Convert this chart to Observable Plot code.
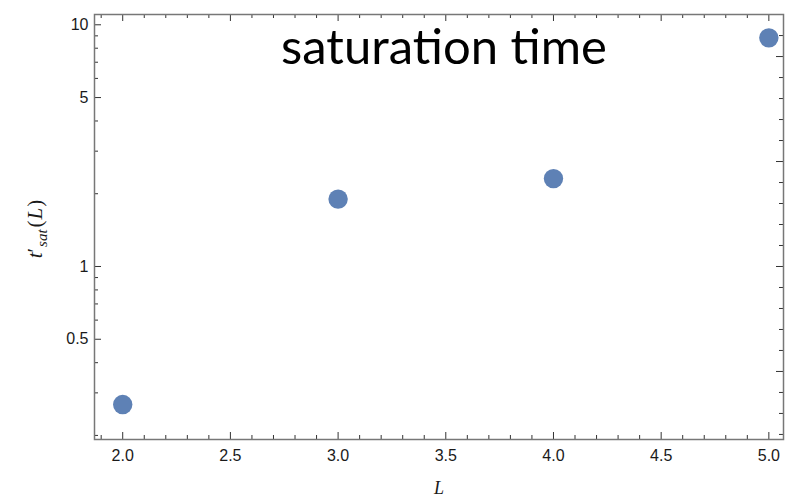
<!DOCTYPE html>
<html><head><meta charset="utf-8">
<script src="https://cdn.jsdelivr.net/npm/d3@7"></script>
<script src="https://cdn.jsdelivr.net/npm/@observablehq/plot@0.6"></script>
<style>body{margin:0;background:#fff}</style>
</head><body><div id="chart"></div>
<script>
// data
const L = [2, 3, 4, 5];
const tsat = [0.2685, 1.90, 2.31, 8.83];
const title = "saturation time";
// ticks
const xMajor = [2.0, 2.5, 3.0, 3.5, 4.0, 4.5, 5.0];
const xMinor = [1.9, 2.1, 2.2, 2.3, 2.4, 2.6, 2.7, 2.8, 2.9, 3.1, 3.2, 3.3, 3.4, 3.6, 3.7, 3.8, 3.9, 4.1, 4.2, 4.3, 4.4, 4.6, 4.7, 4.8, 4.9];
const yMajor = [0.5, 1, 5, 10];
const yMinor = [0.2, 0.3, 0.4, 0.6, 0.7, 0.8, 0.9, 2, 3, 4, 6, 7, 8, 9];
const rightLnMajor = [-1, 0, 1, 2];
const rightLnMinor = [-1.6, -1.4, -1.2, -0.8, -0.6, -0.4, -0.2, 0.2, 0.4, 0.6, 0.8, 1.2, 1.4, 1.6, 1.8, 2.2];

const data = L.map((l, i) => ({L: l, t: tsat[i]}));
const W = 795, H = 499, mL = 94, mR = 12, mT = 14, mB = 60;
const ih = H - mT - mB, iw = W - mL - mR;
const tk = "#333";
const majLen = 7, minLen = 4;

const chart = Plot.plot({
  width: W, height: H,
  marginLeft: mL, marginRight: mR, marginTop: mT, marginBottom: mB,
  style: {fontFamily: "'Liberation Sans', Arial, sans-serif", fontSize: "16px", color: "#1a1a1a", background: "#fff"},
  x: {domain: [1.869, 5.068]},
  y: {type: "log", domain: [0.1924, 11.03]},
  marks: [
    Plot.axisX(xMajor, {anchor: "bottom", tickSize: 0, tickPadding: 10, tickFormat: d3.format(".1f"), fontSize: 16, label: null}),
    Plot.axisY(yMajor, {anchor: "left", tickSize: 0, tickPadding: 6, tickFormat: d => String(d), fontSize: 16, label: null}),
    // bottom ticks
    Plot.tickX(xMajor, {x: d => d, insetTop: ih - majLen, stroke: tk}),
    Plot.tickX(xMinor, {x: d => d, insetTop: ih - minLen, stroke: tk}),
    // top ticks
    Plot.tickX(xMajor, {x: d => d, insetBottom: ih - majLen, stroke: tk}),
    Plot.tickX(xMinor, {x: d => d, insetBottom: ih - minLen, stroke: tk}),
    // left ticks
    Plot.tickY(yMajor, {y: d => d, insetRight: iw - majLen, stroke: tk}),
    Plot.tickY(yMinor, {y: d => d, insetRight: iw - minLen, stroke: tk}),
    // right ticks (natural-log spaced)
    Plot.tickY(rightLnMajor.map(Math.exp), {y: d => d, insetLeft: iw - majLen, stroke: tk}),
    Plot.tickY(rightLnMinor.map(Math.exp), {y: d => d, insetLeft: iw - minLen, stroke: tk}),
    Plot.frame({stroke: "#777", strokeWidth: 1.5}),
    Plot.dot(data, {x: "L", y: "t", r: 9.7, fill: "#5E81B5", stroke: "none"}),
    Plot.text([title], {frameAnchor: "top", dx: 5, dy: 49, lineAnchor: "bottom", fontSize: 49, fontFamily: "Lato", fill: "#000"}),
    Plot.text(["L"], {frameAnchor: "bottom", dy: 54, lineAnchor: "bottom", fontSize: 18, fontFamily: "'Liberation Serif', serif", fontStyle: "italic", fill: "#1a1a1a"}),
    Plot.text(["t′sat(L)"], {frameAnchor: "left", dx: -59, dy: 2, rotate: -90, textAnchor: "middle", lineAnchor: "middle", fontSize: 21, fontFamily: "'Liberation Serif', serif", fill: "#1a1a1a", className: "ylab"})
  ]
});
document.getElementById("chart").appendChild(chart);
const yl = chart.querySelector(".ylab text");
if (yl) {
  yl.innerHTML = '<tspan font-style="italic">t</tspan><tspan>′</tspan><tspan font-style="italic" font-size="15" dy="5" dx="1">sat</tspan><tspan dy="-5" dx="2">(</tspan><tspan font-style="italic" dx="1">L</tspan><tspan dx="1">)</tspan>';
}
</script>
</body></html>
